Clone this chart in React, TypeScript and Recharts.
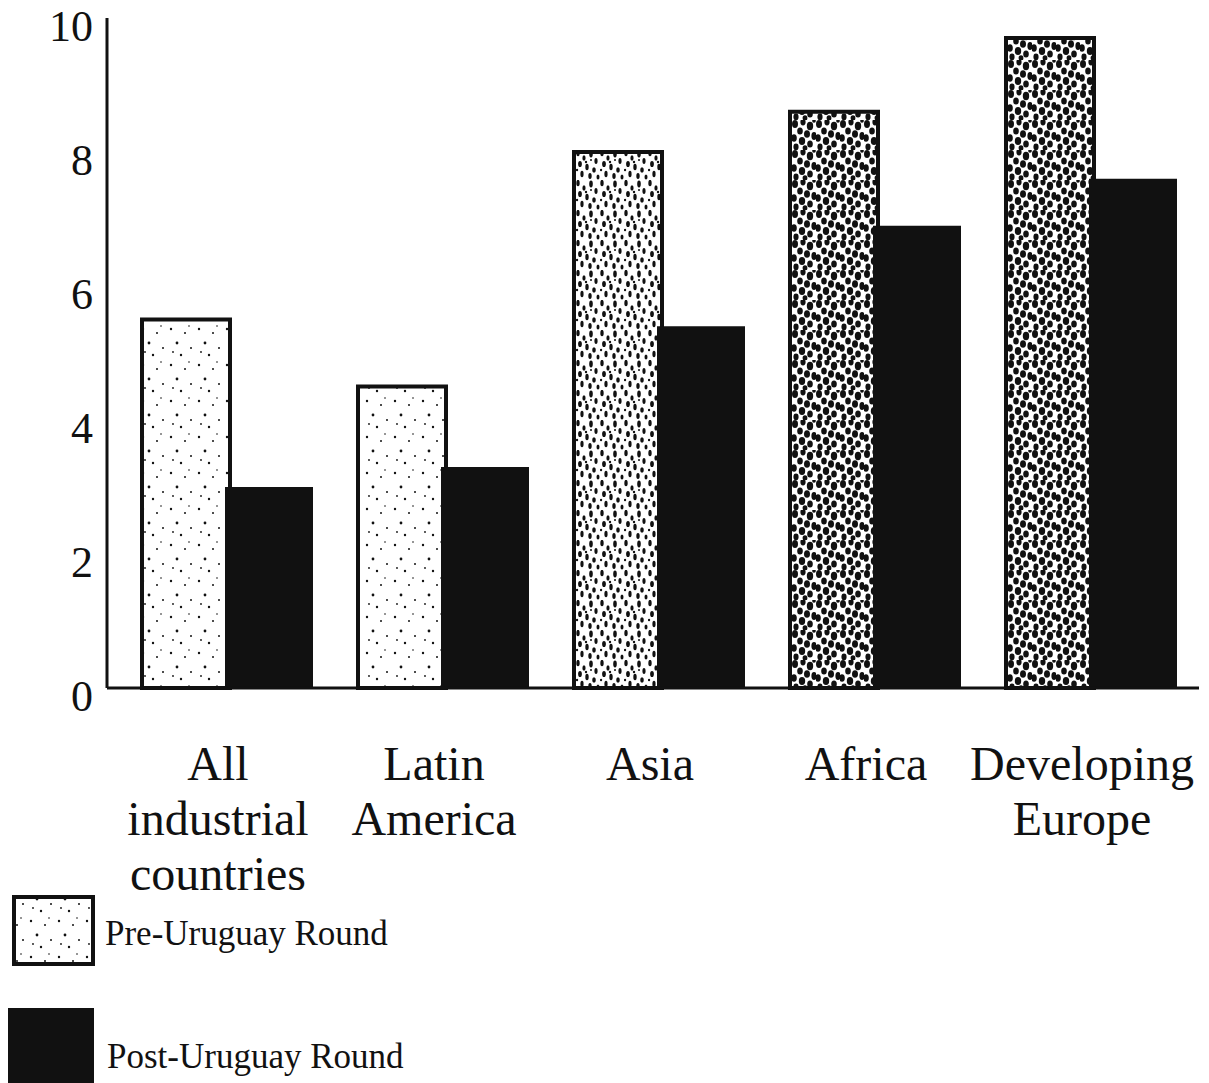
import { Bar, BarChart, Cell, XAxis, YAxis } from 'recharts';

const regions = ['All industrial countries', 'Latin America', 'Asia', 'Africa', 'Developing Europe'];
const regionLines = [['All', 'industrial', 'countries'], ['Latin', 'America'], ['Asia'], ['Africa'], ['Developing', 'Europe']];
const preRound = [5.5, 4.5, 8.0, 8.6, 9.7];
const postRound = [3.0, 3.3, 5.4, 6.9, 7.6];
const yTicks = [0, 2, 4, 6, 8, 10];

// scanned stipple gets heavier from left to right
const preShade = ['url(#stip-light)', 'url(#stip-light)', 'url(#stip-mid)', 'url(#stip-dark)', 'url(#stip-dark)'];

const data = regions.map((name, i) => ({ name, pre: preRound[i], post: postRound[i] }));

const FONT = '"Liberation Serif", "Times New Roman", serif';
const INK = '#111';

function StipplePatterns() {
  return (
    <defs>
      <pattern id="stip-light" width={28} height={36} patternUnits="userSpaceOnUse">
        <rect width={28} height={36} fill="#fff" />
        <circle cx={3} cy={5} r={1.2} fill={INK} />
        <circle cx={17} cy={9} r={1} fill={INK} />
        <circle cx={9} cy={19} r={1.4} fill={INK} />
        <circle cx={23} cy={24} r={1} fill={INK} />
        <circle cx={13} cy={31} r={1.2} fill={INK} />
        <circle cx={5} cy={28} r={0.9} fill={INK} />
        <circle cx={21} cy={2} r={0.8} fill={INK} />
      </pattern>
      <pattern id="stip-mid" width={24} height={30} patternUnits="userSpaceOnUse">
        <rect width={24} height={30} fill="#fff" />
        <ellipse cx={2} cy={3} rx={1.7} ry={3.2} fill={INK} />
        <ellipse cx={8} cy={8} rx={1.6} ry={2.8} fill={INK} />
        <ellipse cx={15} cy={4} rx={1.8} ry={3.4} fill={INK} />
        <ellipse cx={20} cy={11} rx={1.6} ry={3} fill={INK} />
        <ellipse cx={4} cy={14} rx={1.9} ry={3.1} fill={INK} />
        <ellipse cx={11} cy={17} rx={1.7} ry={3.2} fill={INK} />
        <ellipse cx={18} cy={20} rx={1.8} ry={2.8} fill={INK} />
        <ellipse cx={6} cy={24} rx={1.6} ry={3.2} fill={INK} />
        <ellipse cx={14} cy={26} rx={1.7} ry={3} fill={INK} />
        <ellipse cx={22} cy={27} rx={1.5} ry={2.6} fill={INK} />
        <circle cx={10} cy={12} r={1.2} fill={INK} />
        <circle cx={1} cy={20} r={1.2} fill={INK} />
        <circle cx={15} cy={10} r={1} fill={INK} />
      </pattern>
      <pattern id="stip-dark" width={24} height={30} patternUnits="userSpaceOnUse">
        <rect width={24} height={30} fill="#fff" />
        <ellipse cx={3} cy={4} rx={3} ry={4} fill={INK} />
        <ellipse cx={11} cy={2} rx={2.6} ry={3.4} fill={INK} />
        <ellipse cx={18} cy={6} rx={3.2} ry={4.2} fill={INK} />
        <ellipse cx={8} cy={11} rx={2.8} ry={3.6} fill={INK} />
        <ellipse cx={15} cy={14} rx={3} ry={3.8} fill={INK} />
        <ellipse cx={22} cy={16} rx={2.6} ry={4} fill={INK} />
        <ellipse cx={2} cy={18} rx={2.8} ry={3.8} fill={INK} />
        <ellipse cx={10} cy={21} rx={3.2} ry={4} fill={INK} />
        <ellipse cx={18} cy={24} rx={2.8} ry={3.6} fill={INK} />
        <ellipse cx={4} cy={27} rx={2.6} ry={3.4} fill={INK} />
        <ellipse cx={13} cy={28} rx={2.4} ry={2.8} fill={INK} />
        <circle cx={22} cy={1} r={1.8} fill={INK} />
      </pattern>
    </defs>
  );
}

function ValueTick({ y, payload }: { y?: number; payload?: { value: number } }) {
  return (
    <text x={93} y={(y ?? 0) + 23} textAnchor="end" fontFamily={FONT} fontSize={44} fill={INK}>
      {payload?.value}
    </text>
  );
}

function RegionTick({ x, y, payload }: { x?: number; y?: number; payload?: { value: string } }) {
  const lines = regionLines[regions.indexOf(payload?.value ?? '')] ?? [];
  const cx = (x ?? 0) - 9;
  return (
    <text x={cx} y={(y ?? 0) + 90} textAnchor="middle" fontFamily={FONT} fontSize={48} fill={INK}>
      {lines.map((line, i) => (
        <tspan key={line} x={cx} dy={i === 0 ? 0 : 55}>
          {line}
        </tspan>
      ))}
    </text>
  );
}

function RoundLegend() {
  return (
    <svg
      width={450}
      height={203}
      style={{ position: 'absolute', left: 0, top: 880 }}
    >
      <rect x={14} y={17} width={79} height={67} fill="url(#stip-light)" stroke={INK} strokeWidth={4} />
      <text x={105} y={65} fontFamily={FONT} fontSize={35} fill={INK}>
        Pre-Uruguay Round
      </text>
      <rect x={8} y={128} width={86} height={75} fill={INK} />
      <text x={107} y={188} fontFamily={FONT} fontSize={35} fill={INK}>
        Post-Uruguay Round
      </text>
    </svg>
  );
}

export default function App() {
  return (
    <div style={{ position: 'absolute', left: 0, top: 0, width: 1209, height: 1083, background: '#fff' }}>
      <BarChart
        width={1209}
        height={1083}
        data={data}
        margin={{ top: 18, right: 10, left: 0, bottom: 195 }}
        barCategoryGap={23}
        barGap={-5}
      >
        <StipplePatterns />
        <XAxis
          dataKey="name"
          interval={0}
          height={200}
          padding={{ left: 12, right: 0 }}
          axisLine={{ stroke: INK, strokeWidth: 3 }}
          tickLine={false}
          tickSize={0}
          tick={<RegionTick />}
        />
        <YAxis
          width={107}
          domain={[0, 10]}
          ticks={yTicks}
          interval={0}
          axisLine={{ stroke: INK, strokeWidth: 3 }}
          tickLine={false}
          tick={<ValueTick />}
        />
        <Bar dataKey="pre" name="Pre-Uruguay Round" stroke={INK} strokeWidth={4} isAnimationActive={false}>
          {data.map((d, i) => (
            <Cell key={d.name} fill={preShade[i]} />
          ))}
        </Bar>
        <Bar dataKey="post" name="Post-Uruguay Round" fill={INK} isAnimationActive={false} />
      </BarChart>
      <RoundLegend />
    </div>
  );
}
